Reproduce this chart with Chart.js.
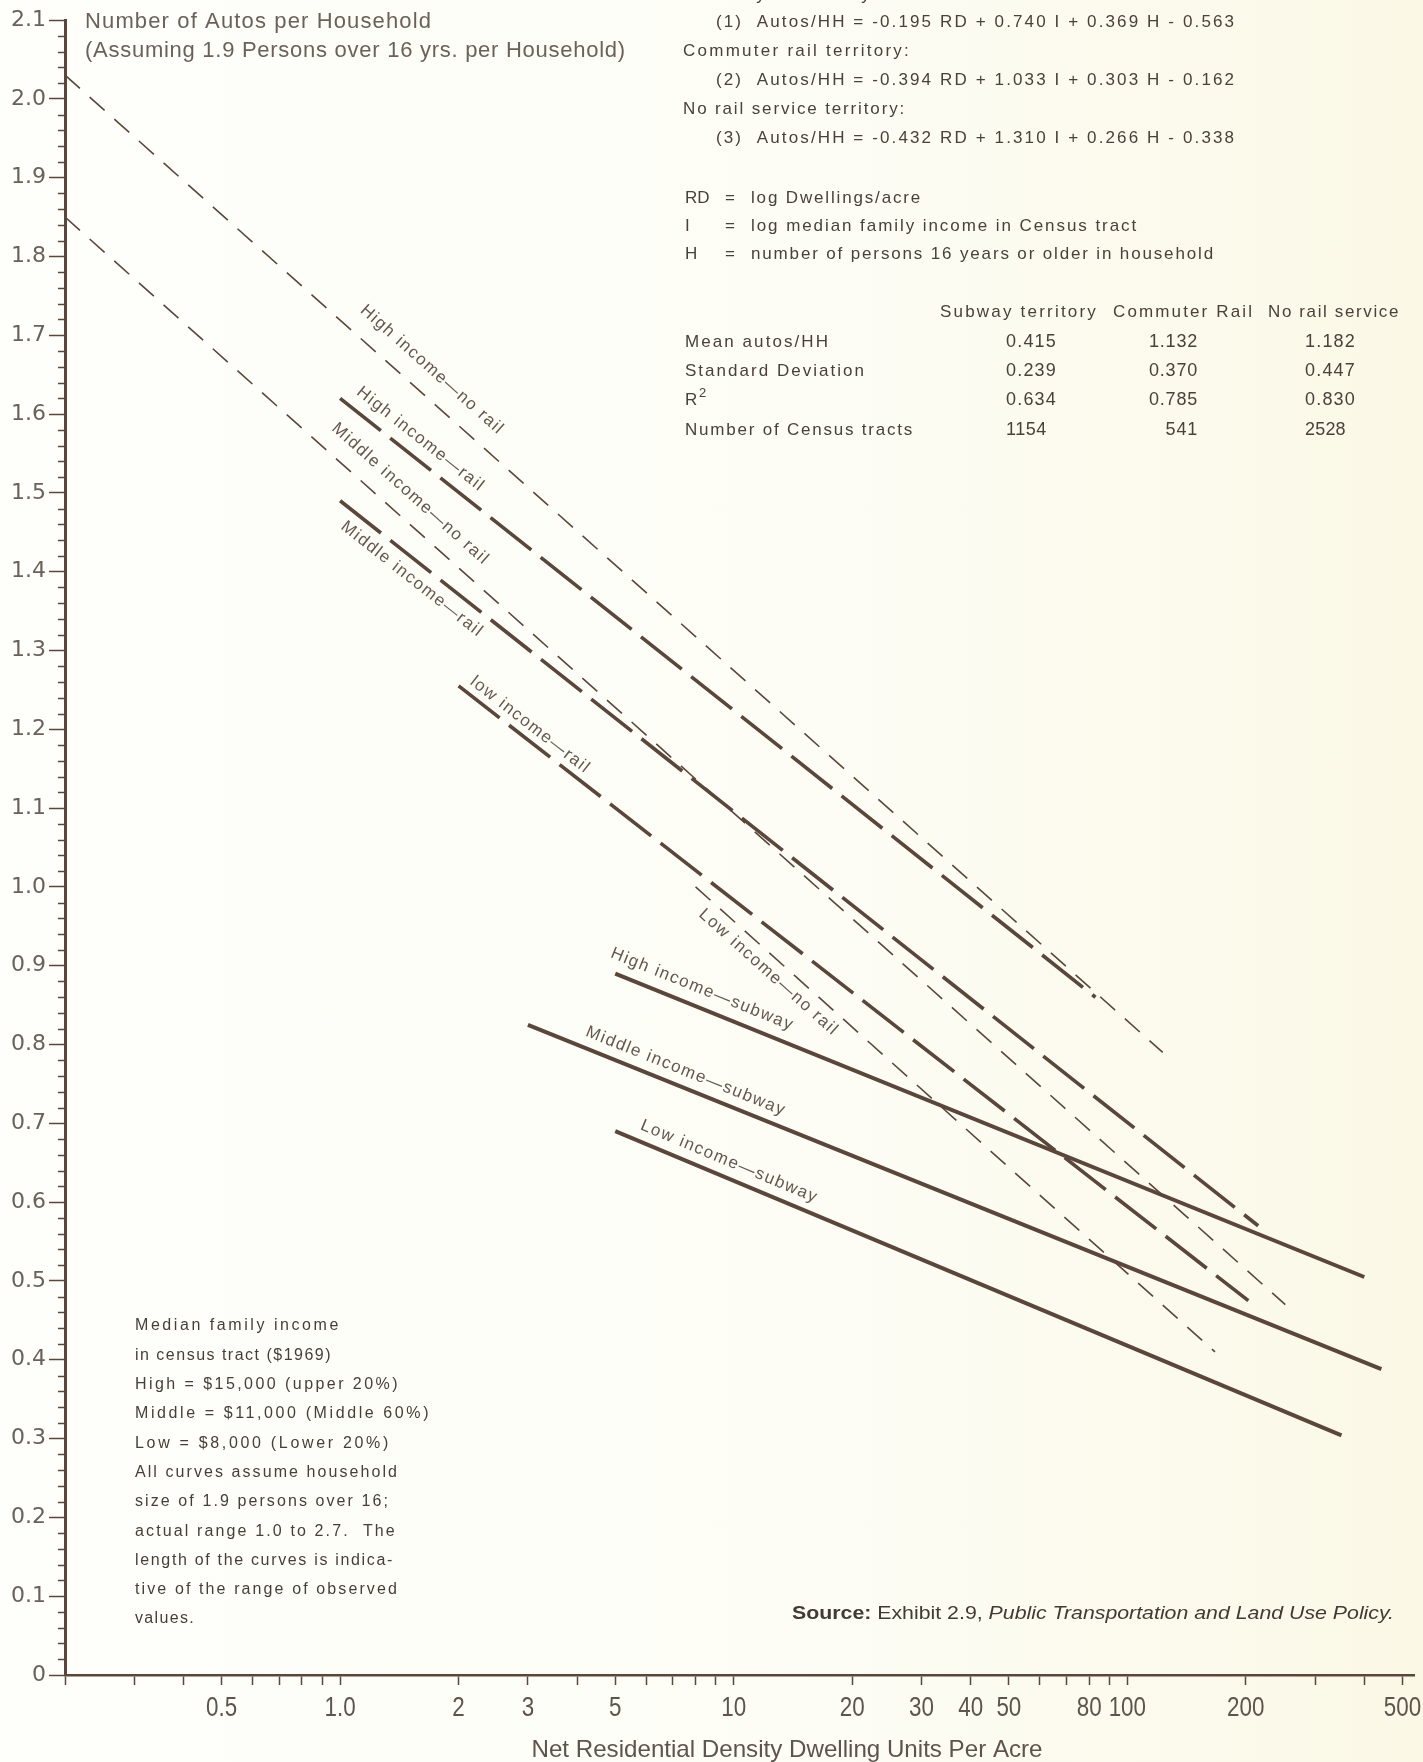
<!DOCTYPE html>
<html>
<head>
<meta charset="utf-8">
<title>Autos per Household vs Residential Density</title>
<script src="https://cdn.jsdelivr.net/npm/chart.js@4.4.0/dist/chart.umd.min.js"></script>
<style>
  html, body { margin: 0; padding: 0; }
  body {
    width: 1423px; height: 1762px; overflow: hidden;
    background: linear-gradient(90deg, #fefefb 0%, #fdfdf6 55%, #fbf8e6 100%);
  }
  canvas { display: block; }
</style>
</head>
<body>
<canvas id="chart" width="1423" height="1762"></canvas>
<script>
// Curves: one straight segment (on log density) per curve
const lineNames = [
  'High income\u2014no rail', 'Middle income\u2014no rail', 'Low income\u2014no rail',
  'High income\u2014rail', 'Middle income\u2014rail', 'low income\u2014rail',
  'High income\u2014subway', 'Middle income\u2014subway', 'Low income\u2014subway'
];
const lineKind = ['norail', 'norail', 'norail', 'rail', 'rail', 'rail', 'subway', 'subway', 'subway'];
const densityStart = [0.2, 0.2, 8, 1.0, 1.0, 2.0, 5, 3, 5];
const autosStart = [2.03, 1.85, 1.0, 1.62, 1.49, 1.255, 0.89, 0.825, 0.69];
const densityEnd = [123, 252, 167, 83, 215, 203, 400, 442, 350];
const autosEnd = [0.79, 0.47, 0.41, 0.86, 0.57, 0.475, 0.505, 0.388, 0.304];

// Axis ticks
const xTickValues = [0.2, 0.3, 0.4, 0.5, 0.6, 0.7, 0.8, 0.9, 1, 2, 3, 4, 5, 6, 7, 8, 9, 10,
  20, 30, 40, 50, 60, 70, 80, 90, 100, 200, 300, 400, 500];
const xTickText = ['', '', '', '0.5', '', '', '', '', '1.0', '2', '3', '', '5', '', '', '', '', '10',
  '20', '30', '40', '50', '', '', '80', '', '100', '200', '', '', '500'];
const yTickLabels = ['0', '0.1', '0.2', '0.3', '0.4', '0.5', '0.6', '0.7', '0.8', '0.9', '1.0',
  '1.1', '1.2', '1.3', '1.4', '1.5', '1.6', '1.7', '1.8', '1.9', '2.0', '2.1'];

// Regression table
const tableColumns = ['Subway territory', 'Commuter Rail', 'No rail service'];
const tableRows = ['Mean autos/HH', 'Standard Deviation', 'R', 'Number of Census tracts'];
const subwayStats = ['0.415', '0.239', '0.634', '1154'];
const railStats = ['1.132', '0.370', '0.785', '541'];
const noRailStats = ['1.182', '0.447', '0.830', '2528'];

const INK = '#5a463b';
const TEXT = '#4b403a';
const SOFT = '#6c615a';

// where each curve label sits (density along the curve) and its offset from the curve
const labelLayout = {
  at: [1.56, 1.38, 13.0, 1.50, 1.62, 2.9, 8.0, 7.3, 9.4],
  offset: [-24, -23, 15, -18, 17, -13, -18, -16, -16]
};

const lineStyle = {
  norail: { width: 1.6, dash: [20, 13] },
  rail: { width: 3.6, dash: [52, 12] },
  subway: { width: 4, dash: [] }
};

const datasets = lineNames.map((name, i) => ({
  label: name,
  data: [{ x: densityStart[i], y: autosStart[i] }, { x: densityEnd[i], y: autosEnd[i] }],
  borderColor: INK,
  borderWidth: lineStyle[lineKind[i]].width,
  borderDash: lineStyle[lineKind[i]].dash,
  borderCapStyle: 'butt',
  pointRadius: 0,
  tension: 0,
  fill: false
}));

// draw text, spreading letters (or squeezing) to a given width
function fitText(ctx, text, x, y, width) {
  ctx.letterSpacing = '0px';
  if (!width) { ctx.fillText(text, x, y); return; }
  const w = ctx.measureText(text).width;
  const n = [...text].length;
  if (w <= width) {
    ctx.letterSpacing = ((width - w) / n).toFixed(2) + 'px';
    ctx.fillText(text, x, y);
  } else {
    ctx.save();
    ctx.translate(x, y);
    ctx.scale(width / w, 1);
    ctx.fillText(text, 0, 0);
    ctx.restore();
  }
  ctx.letterSpacing = '0px';
}

// condensed text, centred on x
function narrowText(ctx, text, x, y, squeeze) {
  ctx.save();
  ctx.translate(x, y);
  ctx.scale(squeeze, 1);
  ctx.textAlign = 'center';
  ctx.fillText(text, 0, 0);
  ctx.restore();
}

const F17 = '17px "Liberation Sans"';
const textBlocks = [
  // y axis heading
  { t: 'Number of Autos per Household', x: 85, y: 22, w: 347, font: '22px "Liberation Sans"', c: SOFT },
  { t: '(Assuming 1.9 Persons over 16 yrs. per Household)', x: 85, y: 51, w: 541, font: '22px "Liberation Sans"', c: SOFT },
  // equations
  { t: 'Subway territory:', x: 683, y: -5, w: 200, font: F17, c: TEXT },
  { t: '(1)  Autos/HH = -0.195 RD + 0.740 I + 0.369 H - 0.563', x: 716, y: 22, w: 520, font: F17, c: TEXT },
  { t: 'Commuter rail territory:', x: 683, y: 51, w: 228, font: F17, c: TEXT },
  { t: '(2)  Autos/HH = -0.394 RD + 1.033 I + 0.303 H - 0.162', x: 716, y: 80, w: 520, font: F17, c: TEXT },
  { t: 'No rail service territory:', x: 683, y: 109, w: 223, font: F17, c: TEXT },
  { t: '(3)  Autos/HH = -0.432 RD + 1.310 I + 0.266 H - 0.338', x: 716, y: 138, w: 520, font: F17, c: TEXT },
  // definitions
  { t: 'RD', x: 685, y: 198, font: F17, c: TEXT },
  { t: '=', x: 725, y: 198, font: F17, c: TEXT },
  { t: 'log Dwellings/acre', x: 751, y: 198, w: 171, font: F17, c: TEXT },
  { t: 'I', x: 685, y: 226, font: F17, c: TEXT },
  { t: '=', x: 725, y: 226, font: F17, c: TEXT },
  { t: 'log median family income in Census tract', x: 751, y: 226, w: 387, font: F17, c: TEXT },
  { t: 'H', x: 685, y: 254, font: F17, c: TEXT },
  { t: '=', x: 725, y: 254, font: F17, c: TEXT },
  { t: 'number of persons 16 years or older in household', x: 751, y: 254, w: 464, font: F17, c: TEXT }
];

const noteLines = [
  ['Median family income', 206], ['in census tract ($1969)', 197], ['High = $15,000 (upper 20%)', 265],
  ['Middle = $11,000 (Middle 60%)', 296], ['Low = $8,000 (Lower 20%)', 256], ['All curves assume household', 264],
  ['size of 1.9 persons over 16;', 255], ['actual range 1.0 to 2.7.  The', 262], ['length of the curves is indica-', 259],
  ['tive of the range of observed', 264], ['values.', 60]
];

const overlay = {
  id: 'overlay',
  afterDatasetsDraw(chart) {
    const ctx = chart.ctx;
    const xs = chart.scales.x, ys = chart.scales.y;
    ctx.save();
    ctx.fillStyle = '#65574d';
    ctx.font = '17px "Liberation Sans"';
    ctx.textAlign = 'center';
    ctx.textBaseline = 'middle';
    lineNames.forEach((name, i) => {
      const x0 = xs.getPixelForValue(densityStart[i]), y0 = ys.getPixelForValue(autosStart[i]);
      const x1 = xs.getPixelForValue(densityEnd[i]), y1 = ys.getPixelForValue(autosEnd[i]);
      const ang = Math.atan2(y1 - y0, x1 - x0);
      const px = xs.getPixelForValue(labelLayout.at[i]);
      const py = y0 + (px - x0) * (y1 - y0) / (x1 - x0);
      const off = labelLayout.offset[i];
      ctx.save();
      ctx.translate(px - Math.sin(ang) * off, py + Math.cos(ang) * off);
      ctx.rotate(ang);
      ctx.letterSpacing = '1.5px';
      ctx.fillText(name, 0, 0);
      ctx.restore();
    });
    ctx.restore();
  },
  afterDraw(chart) {
    const ctx = chart.ctx;
    const xs = chart.scales.x, ys = chart.scales.y;
    const left = chart.chartArea.left;
    ctx.save();
    // minor ticks on the y axis
    ctx.strokeStyle = INK;
    ctx.lineWidth = 1.5;
    for (let k = 0; k <= 105; k++) {
      if (k % 5 === 0) continue;
      const y = Math.round(ys.getPixelForValue(k * 0.02)) + 0.5;
      ctx.beginPath();
      ctx.moveTo(left - 7, y);
      ctx.lineTo(left, y);
      ctx.stroke();
    }

    // x tick labels and axis title, in a condensed face
    ctx.fillStyle = '#5e544d';
    ctx.textBaseline = 'middle';
    ctx.font = '28px "Liberation Sans"';
    xTickValues.forEach((v, i) => {
      if (xTickText[i]) narrowText(ctx, xTickText[i], xs.getPixelForValue(v), 1708, 0.8);
    });
    ctx.font = '24px "Liberation Sans"';
    const tw = ctx.measureText('Net Residential Density Dwelling Units Per Acre').width;
    narrowText(ctx, 'Net Residential Density Dwelling Units Per Acre', 787, 1750, 511 / tw);

    ctx.textAlign = 'left';
    ctx.textBaseline = 'middle';
    textBlocks.forEach(b => {
      ctx.font = b.font;
      ctx.fillStyle = b.c;
      fitText(ctx, b.t, b.x, b.y, b.w);
    });

    // statistics table
    ctx.font = F17;
    ctx.fillStyle = TEXT;
    const headX = [940, 1113, 1268], headW = [158, 141, 132];
    tableColumns.forEach((h, i) => fitText(ctx, h, headX[i], 312, headW[i]));
    const rowY = [342, 371, 400, 430], rowW = [145, 181, null, 229];
    tableRows.forEach((r, i) => fitText(ctx, r, 685, rowY[i], rowW[i]));
    ctx.font = '13px "Liberation Sans"';
    ctx.fillText('2', 699, 393);
    ctx.font = '18px "Liberation Sans"';
    rowY.forEach((y, i) => {
      ctx.textAlign = 'left';
      fitText(ctx, subwayStats[i], 1006, y, subwayStats[i].length * 10.2);
      ctx.textAlign = 'right';
      ctx.letterSpacing = '0.8px';
      ctx.fillText(railStats[i], 1198, y);
      ctx.letterSpacing = '0px';
      ctx.textAlign = 'left';
      fitText(ctx, noRailStats[i], 1305, y, noRailStats[i].length * 10.2);
    });

    // explanatory note
    ctx.textAlign = 'left';
    ctx.font = '16px "Liberation Sans"';
    ctx.fillStyle = '#483e38';
    noteLines.forEach((n, i) => fitText(ctx, n[0], 135, 1326 + i * 29.3, n[1]));

    // source line
    const parts = [
      ['Source:', 'bold 19px "Liberation Sans"'],
      [' Exhibit 2.9, ', '19px "Liberation Sans"'],
      ['Public Transportation and Land Use Policy.', 'italic 19px "Liberation Sans"']
    ];
    let total = 0;
    parts.forEach(p => { ctx.font = p[1]; total += ctx.measureText(p[0]).width; });
    ctx.save();
    ctx.translate(792, 1614);
    ctx.scale(602 / total, 1);
    let cx = 0;
    ctx.fillStyle = '#433a34';
    parts.forEach(p => { ctx.font = p[1]; ctx.fillText(p[0], cx, 0); cx += ctx.measureText(p[0]).width; });
    ctx.restore();
    ctx.restore();
  }
};

new Chart(document.getElementById('chart'), {
  type: 'line',
  data: { datasets },
  options: {
    responsive: false,
    animation: false,
    devicePixelRatio: 1,
    layout: { padding: { top: 20, right: 9, left: 0, bottom: 0 } },
    plugins: { legend: { display: false }, tooltip: { enabled: false } },
    scales: {
      x: {
        type: 'logarithmic',
        min: 0.2,
        max: 535,
        afterBuildTicks: (scale) => { scale.ticks = xTickValues.map(v => ({ value: v })); },
        afterFit: (scale) => { scale.height = 87; },
        ticks: { display: false, autoSkip: false, maxRotation: 0 },
        grid: { drawOnChartArea: false, drawTicks: true, tickLength: 10, tickColor: INK, tickWidth: 1.5 },
        border: { display: true, color: INK, width: 2.5 }
      },
      y: {
        min: 0,
        max: 2.1,
        afterBuildTicks: (scale) => { scale.ticks = yTickLabels.map(t => ({ value: parseFloat(t) })); },
        afterFit: (scale) => { scale.width = 65; },
        ticks: {
          padding: 3,
          color: '#6a615b',
          font: { family: '"DejaVu Sans"', size: 22 },
          callback: (v, i) => yTickLabels[i]
        },
        grid: { drawOnChartArea: false, tickLength: 16, tickColor: INK, tickWidth: 1.5 },
        border: { display: true, color: INK, width: 3 }
      }
    }
  },
  plugins: [overlay]
});
</script>
</body>
</html>
